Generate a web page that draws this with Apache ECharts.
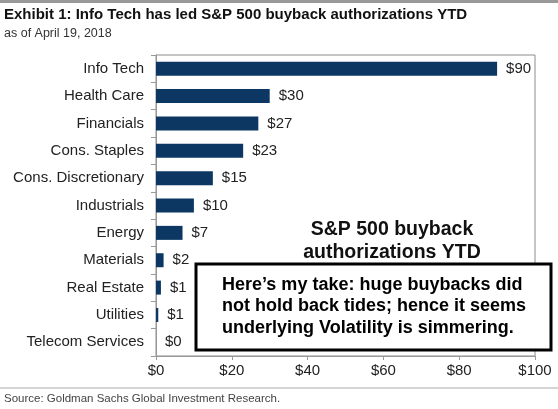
<!DOCTYPE html>
<html>
<head>
<meta charset="utf-8">
<script src="https://cdn.jsdelivr.net/npm/echarts@6/dist/echarts.min.js"></script>
<style>
  html, body { margin: 0; padding: 0; background: #fff; }
  #chart { width: 558px; height: 409px; }
</style>
</head>
<body>
<div id="chart"></div>
<script>
// 数据：行业类别与回购授权金额（十亿美元）
const sectors = ['Info Tech', 'Health Care', 'Financials', 'Cons. Staples', 'Cons. Discretionary',
  'Industrials', 'Energy', 'Materials', 'Real Estate', 'Utilities', 'Telecom Services']
const buybacks = [90, 30, 27, 23, 15, 10, 7, 2, 1.3, 0.6, 0]
const xTicks = [0, 20, 40, 60, 80, 100]

const font = 'Arial, "Liberation Sans", Helvetica, sans-serif'
const navy = '#0c3763'

const chart = echarts.init(document.getElementById('chart'))
chart.setOption({
  animation: false,
  textStyle: { fontFamily: font },
  title: [
    { text: 'Exhibit 1: Info Tech has led S&P 500 buyback authorizations YTD', left: 4, top: 7, padding: 0,
      textStyle: { fontSize: 15, fontWeight: 'bold', color: '#111', fontFamily: font } },
    { text: 'as of April 19, 2018', left: 4, top: 27, padding: 0,
      textStyle: { fontSize: 12.5, fontWeight: 'normal', color: '#333', fontFamily: font } }
  ],
  grid: { left: 156, right: 23, top: 55, bottom: 53, show: true, borderColor: '#8c8c8c', borderWidth: 1 },
  xAxis: {
    type: 'value', min: xTicks[0], max: xTicks[xTicks.length - 1], interval: 20,
    axisLine: { show: true, lineStyle: { color: '#999' } },
    axisTick: { show: true, length: 4, lineStyle: { color: '#999' } },
    splitLine: { show: false },
    axisLabel: { color: '#222', fontSize: 15, margin: 7, formatter: v => '$' + v }
  },
  yAxis: {
    type: 'category', data: sectors, inverse: true,
    axisLine: { show: true, lineStyle: { color: '#999' } },
    axisTick: { show: true, length: 5, lineStyle: { color: '#999' } },
    axisLabel: { color: '#222', fontSize: 15, margin: 12 }
  },
  series: [{
    type: 'bar', data: buybacks, barWidth: 14,
    itemStyle: { color: navy },
    label: { show: true, position: 'right', distance: 9, color: '#222', fontSize: 15,
      formatter: p => '$' + Math.round(p.value) }
  }],
  graphic: [
    { type: 'rect', shape: { x: 0, y: 0, width: 558, height: 3 }, style: { fill: '#999' } },
    { type: 'text', x: 392, y: 230, style: { text: 'S&P 500 buyback', align: 'center', verticalAlign: 'middle',
      font: 'bold 19.5px ' + font, fill: '#111' } },
    { type: 'text', x: 392, y: 253, style: { text: 'authorizations YTD', align: 'center', verticalAlign: 'middle',
      font: 'bold 19.5px ' + font, fill: '#111' } },
    { type: 'rect', z: 100, shape: { x: 196, y: 264, width: 355, height: 86 },
      style: { fill: '#fff', stroke: '#000', lineWidth: 3 } },
    { type: 'text', z: 101, x: 222, y: 274, style: {
      text: 'Here\u2019s my take: huge buybacks did\nnot hold back tides; hence it seems\nunderlying Volatility is simmering.',
      font: 'bold 18px ' + font, fill: '#000', lineHeight: 21.5, verticalAlign: 'top' } },
    { type: 'line', shape: { x1: 0, y1: 388, x2: 558, y2: 388 }, style: { stroke: '#aaa', lineWidth: 1 } },
    { type: 'text', x: 4, y: 399, style: { text: 'Source: Goldman Sachs Global Investment Research.',
      verticalAlign: 'middle', font: '11.5px ' + font, fill: '#444' } }
  ]
})
</script>
</body>
</html>
